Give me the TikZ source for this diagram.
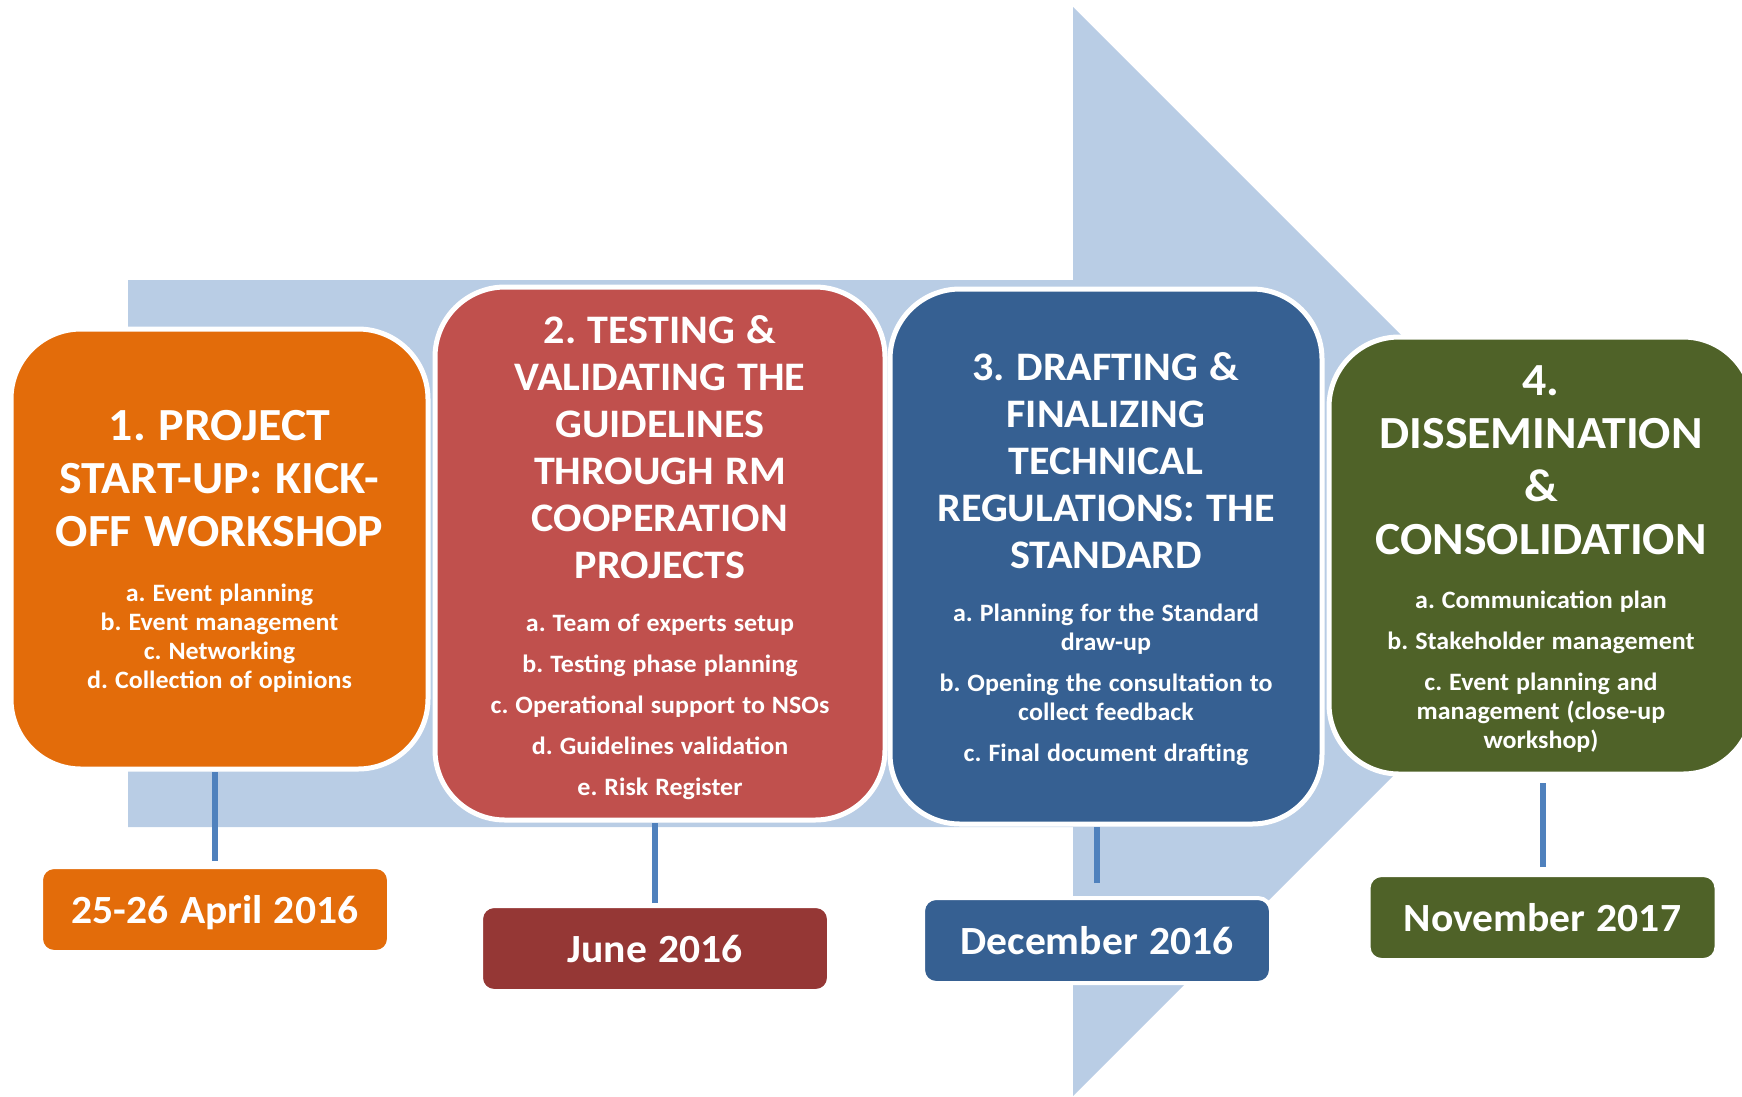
\documentclass[tikz,border=0pt]{standalone}
\usepackage{fontspec}
\setmainfont{Carlito}[FakeStretch=1.04]
\definecolor{arrowblue}{HTML}{B9CDE5}
\definecolor{linkblue}{HTML}{4F81BD}
\definecolor{stageorange}{HTML}{E36C0A}
\definecolor{stagered}{HTML}{C0504D}
\definecolor{stageblue}{HTML}{366092}
\definecolor{stagegreen}{HTML}{4F6228}
\definecolor{datered}{HTML}{953735}
\newcommand{\fixspace}{\spaceskip=.28em\relax\xspaceskip=.28em\relax}
\newcommand{\titlefont}{\fontsize{46}{53}\selectfont\fixspace}
\newcommand{\smalltitlefont}{\fontsize{40.5}{47}\selectfont\fixspace}
\newcommand{\itemfont}{\fontsize{25}{29}\selectfont\fixspace}

\begin{document}
\begin{tikzpicture}[x=1pt,y=-1pt,
    stage/.style={draw=white,line width=5pt,rounded corners=70pt,text=white,
      font=\bfseries,align=center,inner sep=0pt,text width=395pt},
    datebox/.style={draw=white,line width=4pt,rounded corners=13pt,
      minimum width=348pt,minimum height=85pt,text=white,text depth=0pt,
      font=\bfseries\fontsize{40}{46}\selectfont\fixspace},
    link/.style={draw=linkblue,line width=6pt}]
  \useasboundingbox (0,0) rectangle (1742,1096);
  \clip (0,0) rectangle (1742,1096);
  % big arrow
  \fill[arrowblue] (128,280) -- (1073,280) -- (1073,7) -- (1617.5,551.5)
    -- (1073,1096) -- (1073,827) -- (128,827) -- cycle;
  % stages
  \node[stage,fill=stageorange,minimum width=417pt,minimum height=440pt] (stage1) at (219.5,549)
    {\titlefont 1. PROJECT\\START-UP: KICK-\\OFF WORKSHOP\par
     \vspace{26pt}\itemfont a. Event planning\\b. Event management\\c. Networking\\d. Collection of opinions\par
     \vspace{-4pt}};
  \node[stage,fill=stagered,minimum width=450pt,minimum height=533pt] (stage2) at (660,553.5)
    {\smalltitlefont 2. TESTING \&\\VALIDATING THE\\GUIDELINES\\THROUGH RM\\COOPERATION\\PROJECTS\par
     \vspace{24pt}\itemfont a. Team of experts setup\\[12pt]b. Testing phase planning\\[12pt]c. Operational support to NSOs\\[12pt]d. Guidelines validation\\[12pt]e. Risk Register\par
     \vspace{-8pt}};
  \node[stage,fill=stageblue,minimum width=432pt,minimum height=535pt] (stage3) at (1106,556.5)
    {\smalltitlefont 3. DRAFTING \&\\FINALIZING\\TECHNICAL\\REGULATIONS: THE\\STANDARD\par
     \vspace{24pt}\itemfont a. Planning for the Standard\\draw-up\\[12pt]b. Opening the consultation to\\collect feedback\\[12pt]c. Final document drafting\par
     \vspace{-6pt}};
  \node[stage,fill=stagegreen,minimum width=424pt,minimum height=437pt] (stage4) at (1541,555.5)
    {\titlefont 4.\\DISSEMINATION\\\&\\CONSOLIDATION\par
     \vspace{25pt}\itemfont a. Communication plan\\[12pt]b. Stakeholder management\\[12pt]c. Event planning and\\management (close-up\\workshop)\par
     \vspace{-8pt}};
  % dates
  \node[datebox,fill=stageorange] (date1) at (215,909.5) {25-26 April 2016};
  \node[datebox,fill=datered] (date2) at (655,948.5) {June 2016};
  \node[datebox,fill=stageblue] (date3) at (1097,940.5) {December 2016};
  \node[datebox,fill=stagegreen] (date4) at (1542.5,917.5) {November 2017};
  % links
  \draw[link,shorten <=4pt] (date1.north) -- (date1.north |- stage1.south);
  \draw[link,shorten <=1pt] (date2.north) -- (date2.north |- stage2.south);
  \draw[link,shorten <=13pt] (date3.north) -- (date3.north |- stage3.south);
  \draw[link,shorten <=6pt,shorten >=6pt] (date4.north) -- (date4.north |- stage4.south);
\end{tikzpicture}
\end{document}
